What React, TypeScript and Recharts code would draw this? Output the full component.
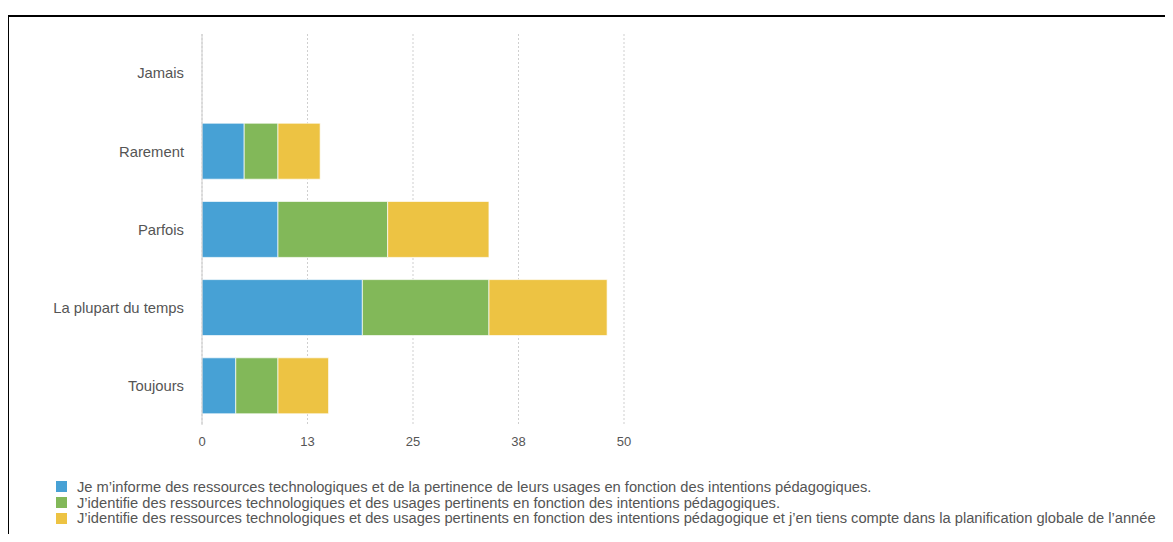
import { BarChart, Bar, XAxis, YAxis, CartesianGrid } from "recharts";

const categories = ["Jamais", "Rarement", "Parfois", "La plupart du temps", "Toujours"];
const informe = [0, 5, 9, 19, 4];
const identifie = [0, 4, 13, 15, 5];
const planifie = [0, 5, 12, 14, 6];
const xTicks = [0, 12.5, 25, 37.5, 50];

const seriesLabels = [
  "Je m’informe des ressources technologiques et de la pertinence de leurs usages en fonction des intentions pédagogiques.",
  "J’identifie des ressources technologiques et des usages pertinents en fonction des intentions pédagogiques.",
  "J’identifie des ressources technologiques et des usages pertinents en fonction des intentions pédagogique et j’en tiens compte dans la planification globale de l’année",
];
const seriesColors = ["#47a1d5", "#82b859", "#edc343"];
const seriesKeys = ["informe", "identifie", "planifie"];

const data = categories.map((name, i) => ({
  name,
  informe: informe[i],
  identifie: identifie[i],
  planifie: planifie[i],
}));

const font = "'Liberation Sans', Arial, Helvetica, sans-serif";

export default function App() {
  return (
    <div style={{ position: "relative", width: 1165, height: 526, overflow: "hidden" }}>
      <div
        style={{
          position: "absolute",
          top: 7,
          left: -1,
          width: 1220,
          height: 600,
          border: "2px solid #000",
          boxSizing: "border-box",
          background: "#fff",
          fontFamily: font,
        }}
      >
        <BarChart
          layout="vertical"
          width={640}
          height={440}
          data={data}
          margin={{ top: 17, right: 25, bottom: 2, left: 0 }}
          barSize={56}
        >
          <CartesianGrid horizontal={false} stroke="#cfcfcf" strokeDasharray="2 2" />
          <XAxis
            type="number"
            domain={[0, 50]}
            ticks={xTicks}
            tickFormatter={(v: number) => String(Math.round(v))}
            axisLine={false}
            tickLine={false}
            tickMargin={6}
            height={30}
            tick={{ fill: "#555", fontSize: 13, fontFamily: font }}
          />
          <YAxis
            type="category"
            dataKey="name"
            width={193}
            axisLine={{ stroke: "#cccccc" }}
            tickLine={false}
            tickMargin={12}
            tick={{ fill: "#555", fontSize: 14.8, fontFamily: font }}
          />
          {seriesKeys.map((key, i) => (
            <Bar
              key={key}
              dataKey={key}
              stackId="a"
              fill={seriesColors[i]}
              stroke="rgba(255,255,255,0.7)"
              strokeWidth={1}
              isAnimationActive={false}
            />
          ))}
        </BarChart>
        <div style={{ position: "absolute", left: 47, top: 462 }}>
          {seriesLabels.map((label, i) => (
            <div
              key={label}
              style={{ display: "flex", alignItems: "center", height: 15.7, fontSize: 14.7, color: "#555" }}
            >
              <span
                style={{
                  display: "inline-block",
                  width: 11,
                  height: 11,
                  background: seriesColors[i],
                  marginRight: 10,
                  flexShrink: 0,
                }}
              />
              <span style={{ whiteSpace: "nowrap" }}>{label}</span>
            </div>
          ))}
        </div>
      </div>
    </div>
  );
}
